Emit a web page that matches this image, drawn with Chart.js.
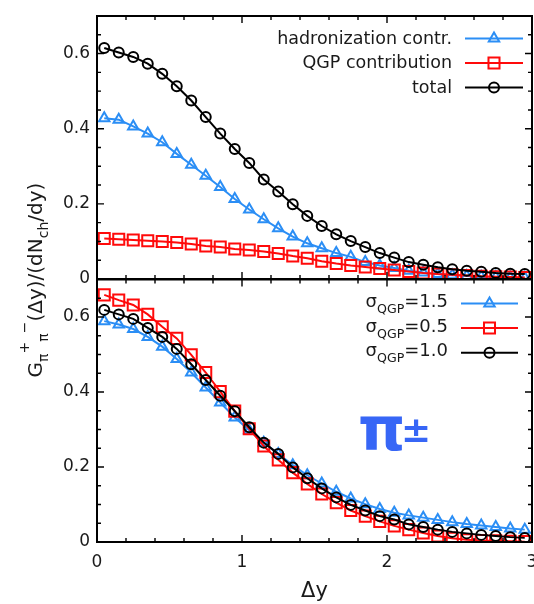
<!DOCTYPE html>
<html>
<head>
<meta charset="utf-8">
<title>Balance function of pions</title>
<script src="https://cdn.jsdelivr.net/npm/chart.js@4.4.1/dist/chart.umd.min.js"></script>
<style>
    html, body{
        margin:0;
        padding:0;
        background:#ffffff;
    }

    #wrap{
        position:relative;
        width:534px;
        height:604px;
    }

    #wrap canvas{
        position:absolute;
        left:0;
        top:0;
    }
</style>
</head>
<body>

<div id="wrap">
    <canvas id="topChart" width="534" height="604"></canvas>
    <canvas id="bottomChart" width="534" height="604"></canvas>
</div>

<script>

/*
=================================
DATA
=================================
*/

const dyValues = [
    0.05, 0.15, 0.25, 0.35, 0.45, 0.55, 0.65, 0.75, 0.85, 0.95,
    1.05, 1.15, 1.25, 1.35, 1.45, 1.55, 1.65, 1.75, 1.85, 1.95,
    2.05, 2.15, 2.25, 2.35, 2.45, 2.55, 2.65, 2.75, 2.85, 2.95
];

// upper panel: contributions to the balance function
const hadronizationTop = [
    0.428, 0.424, 0.406, 0.387, 0.364, 0.333, 0.304, 0.275, 0.245, 0.213,
    0.185, 0.159, 0.135, 0.113, 0.095, 0.082, 0.069, 0.059, 0.045, 0.036,
    0.029, 0.022, 0.017, 0.013, 0.010, 0.008, 0.006, 0.005, 0.004, 0.003
];

const qgpTop = [
    0.108, 0.106, 0.104, 0.102, 0.100, 0.097, 0.093, 0.088, 0.085, 0.080,
    0.077, 0.073, 0.068, 0.061, 0.055, 0.047, 0.041, 0.036, 0.032, 0.028,
    0.024, 0.020, 0.016, 0.013, 0.011, 0.009, 0.007, 0.006, 0.005, 0.004
];

const totalTop = [
    0.615, 0.603, 0.591, 0.573, 0.546, 0.513, 0.475, 0.431, 0.387, 0.346,
    0.309, 0.265, 0.233, 0.199, 0.168, 0.141, 0.119, 0.101, 0.085, 0.069,
    0.057, 0.045, 0.038, 0.031, 0.026, 0.022, 0.019, 0.016, 0.014, 0.013
];

// lower panel: different QGP widths
const sigma15Bottom = [
    0.589, 0.580, 0.568, 0.547, 0.521, 0.488, 0.452, 0.412, 0.372, 0.332,
    0.298, 0.265, 0.235, 0.205, 0.178, 0.156, 0.134, 0.116, 0.101, 0.088,
    0.078, 0.071, 0.065, 0.059, 0.053, 0.048, 0.044, 0.040, 0.036, 0.033
];

const sigma05Bottom = [
    0.659, 0.645, 0.632, 0.607, 0.574, 0.543, 0.499, 0.452, 0.401, 0.349,
    0.302, 0.256, 0.219, 0.185, 0.155, 0.128, 0.105, 0.084, 0.069, 0.055,
    0.043, 0.033, 0.024, 0.016, 0.010, 0.006, 0.004, 0.003, 0.002, 0.001
];

const sigma10Bottom = [
    0.619, 0.607, 0.595, 0.571, 0.547, 0.515, 0.474, 0.432, 0.390, 0.349,
    0.306, 0.265, 0.235, 0.199, 0.170, 0.143, 0.119, 0.099, 0.084, 0.069,
    0.060, 0.047, 0.040, 0.033, 0.027, 0.023, 0.019, 0.016, 0.013, 0.011
];

const yTickValues = [0, 0.2, 0.4, 0.6];
const xTickValues = [0, 1, 2, 3];

/*
=================================
STYLE
=================================
*/

const FONT = '"DejaVu Sans", "Liberation Sans", sans-serif';
const BLUE = "#2b8ef5";
const RED = "#ff0a0a";
const BLACK = "#000000";
const PION_BLUE = "#3766f6";

Chart.defaults.font.family = FONT;
Chart.defaults.color = "#1a1a1a";

function toPoints(values){

    return dyValues.map((x, i) => ({
        x: x,
        y: values[i]
    }));
}

function series(parts, values, color, style, radius, order){

    return {
        label: parts.map(p => p.t).join(""),
        keyParts: parts,
        data: toPoints(values),
        borderColor: color,
        borderWidth: 2,
        pointStyle: style,
        pointRadius: radius,
        pointBorderWidth: 2,
        pointBorderColor: color,
        pointBackgroundColor: "rgba(0,0,0,0)",
        tension: 0,
        order: order
    };
}

/*
=================================
RICH TEXT (SUB / SUPERSCRIPTS)
=================================
*/

function partFont(p, size){

    const s = p.sub || p.sup ? size * 0.7 : size;

    return (p.bold ? "bold " : "") + s + "px " + FONT;
}

function partShift(p, size){

    if(p.sub) return size * 0.34;
    if(p.sup) return -size * 0.62;
    return 0;
}

function drawRichText(ctx, parts, x, y, align, size){

    let width = 0;

    parts.forEach(p => {
        ctx.font = partFont(p, size);
        width += ctx.measureText(p.t).width;
    });

    let cx = x;

    if(align === "right") cx = x - width;
    if(align === "center") cx = x - width / 2;

    ctx.textAlign = "left";
    ctx.textBaseline = "alphabetic";

    parts.forEach(p => {
        ctx.font = partFont(p, size);
        ctx.fillText(p.t, cx, y + partShift(p, size));
        cx += ctx.measureText(p.t).width;
    });
}

/*
=================================
PLUGINS
=================================
*/

// inward ticks on all four sides plus the frame
const frameTicks = {

    id: "frameTicks",

    afterDatasetsDraw(chart){

        const ctx = chart.ctx;
        const a = chart.chartArea;
        const xs = chart.scales.x;
        const ys = chart.scales.y;

        ctx.save();
        ctx.strokeStyle = "#000";
        ctx.lineWidth = 1.4;
        ctx.beginPath();

        for(let i = 1; i < 15; i++){

            const px = xs.getPixelForValue(i * 0.2);
            const len = i % 5 === 0 ? 7 : 4;

            ctx.moveTo(px, a.bottom);
            ctx.lineTo(px, a.bottom - len);
            ctx.moveTo(px, a.top);
            ctx.lineTo(px, a.top + len);
        }

        for(let i = 1; i < 14; i++){

            const py = ys.getPixelForValue(i * 0.05);
            const len = i % 4 === 0 ? 7 : 4;

            ctx.moveTo(a.left, py);
            ctx.lineTo(a.left + len, py);
            ctx.moveTo(a.right, py);
            ctx.lineTo(a.right - len, py);
        }

        ctx.stroke();

        ctx.lineWidth = 2;
        ctx.strokeRect(a.left, a.top, a.right - a.left, a.bottom - a.top);
        ctx.restore();
    }
};

// key drawn in the upper right corner: text, line sample, marker
const seriesKey = {

    id: "seriesKey",

    afterDraw(chart, args, opts){

        const ctx = chart.ctx;

        ctx.save();

        chart.data.datasets.forEach((ds, i) => {

            const y = opts.top + i * opts.gap;

            ctx.fillStyle = "#1a1a1a";
            drawRichText(ctx, ds.keyParts, opts.textRight, y + opts.textDrop, "right", opts.size);

            ctx.strokeStyle = ds.borderColor;
            ctx.lineWidth = 2;
            ctx.beginPath();
            ctx.moveTo(opts.lineFrom, y);
            ctx.lineTo(opts.lineTo, y);
            ctx.stroke();

            ctx.fillStyle = "rgba(0,0,0,0)";
            Chart.helpers.drawPoint(ctx, {
                pointStyle: ds.pointStyle,
                radius: ds.pointRadius,
                borderWidth: 2,
                rotation: 0
            }, (opts.lineFrom + opts.lineTo) / 2, y);
        });

        ctx.restore();
    }
};

// shared y title and the particle label
const panelText = {

    id: "panelText",

    afterDraw(chart){

        const ctx = chart.ctx;

        ctx.save();
        ctx.fillStyle = "#1a1a1a";
        ctx.translate(41.5, 280);
        ctx.rotate(-Math.PI / 2);

        drawRichText(ctx, [
            { t: "G" },
            { t: "π", sub: true },
            { t: "+", sup: true },
            { t: "π", sub: true },
            { t: "−", sup: true },
            { t: "(Δy)/(dN" },
            { t: "ch", sub: true },
            { t: "/dy)" }
        ], 0, 0, "center", 20);

        ctx.restore();

        ctx.save();
        ctx.fillStyle = PION_BLUE;
        ctx.textAlign = "left";
        ctx.textBaseline = "alphabetic";
        ctx.font = "bold 60px " + FONT;
        ctx.fillText("π", 358, 450);
        ctx.font = "bold 36px " + FONT;
        ctx.fillText("±", 401, 442);
        ctx.restore();
    }
};

/*
=================================
SCALES
=================================
*/

function yScale(){

    return {
        type: "linear",
        min: 0,
        max: 0.7,
        afterBuildTicks: s => {
            s.ticks = yTickValues.map(v => ({ value: v }));
        },
        afterFit: s => {
            s.width = 97;
            s.paddingTop = 0;
            s.paddingBottom = 0;
        },
        grid: { display: false, drawTicks: false },
        border: { display: false },
        ticks: {
            padding: 7,
            font: { size: 17 },
            color: "#1a1a1a",
            callback: v => v === 0 ? "0" : v.toFixed(1)
        }
    };
}

function xScale(showLabels){

    return {
        type: "linear",
        min: 0,
        max: 3,
        afterBuildTicks: s => {
            s.ticks = xTickValues.map(v => ({ value: v }));
        },
        afterFit: s => {
            s.height = showLabels ? 62 : 0;
            s.paddingLeft = 0;
            s.paddingRight = 0;
        },
        grid: { display: false, drawTicks: false },
        border: { display: false },
        ticks: {
            display: showLabels,
            padding: 10,
            maxRotation: 0,
            font: { size: 17 },
            color: "#1a1a1a",
            callback: v => String(v)
        },
        title: {
            display: showLabels,
            text: "Δy",
            color: "#1a1a1a",
            font: { size: 21 },
            padding: { top: 0, bottom: 0 }
        }
    };
}

/*
=================================
TOP PANEL
=================================
*/

new Chart(document.getElementById("topChart"), {

    type: "line",

    data: {
        datasets: [
            series([{ t: "hadronization contr." }], hadronizationTop, BLUE, "triangle", 6, 3),
            series([{ t: "QGP contribution" }], qgpTop, RED, "rect", 7.8, 2),
            series([{ t: "total" }], totalTop, BLACK, "circle", 5, 1)
        ]
    },

    options: {
        responsive: false,
        animation: false,
        devicePixelRatio: 1,
        events: [],
        layout: {
            autoPadding: false,
            padding: { left: 0, right: 2, top: 16, bottom: 325 }
        },
        scales: {
            x: xScale(false),
            y: yScale()
        },
        plugins: {
            legend: { display: false },
            tooltip: { enabled: false },
            seriesKey: {
                top: 38.5,
                gap: 24.5,
                textRight: 452,
                textDrop: 5,
                lineFrom: 465,
                lineTo: 523,
                size: 17.5
            }
        }
    },

    plugins: [frameTicks, seriesKey]
});

/*
=================================
BOTTOM PANEL
=================================
*/

new Chart(document.getElementById("bottomChart"), {

    type: "line",

    data: {
        datasets: [
            series([{ t: "σ" }, { t: "QGP", sub: true }, { t: "=1.5" }], sigma15Bottom, BLUE, "triangle", 6, 3),
            series([{ t: "σ" }, { t: "QGP", sub: true }, { t: "=0.5" }], sigma05Bottom, RED, "rect", 7.8, 2),
            series([{ t: "σ" }, { t: "QGP", sub: true }, { t: "=1.0" }], sigma10Bottom, BLACK, "circle", 5, 1)
        ]
    },

    options: {
        responsive: false,
        animation: false,
        devicePixelRatio: 1,
        events: [],
        layout: {
            autoPadding: false,
            padding: { left: 0, right: 2, top: 279.5, bottom: 0 }
        },
        scales: {
            x: xScale(true),
            y: yScale()
        },
        plugins: {
            legend: { display: false },
            tooltip: { enabled: false },
            seriesKey: {
                top: 303.5,
                gap: 24.6,
                textRight: 448,
                textDrop: 3.5,
                lineFrom: 461,
                lineTo: 518,
                size: 18
            }
        }
    },

    plugins: [frameTicks, seriesKey, panelText]
});

</script>
</body>
</html>
